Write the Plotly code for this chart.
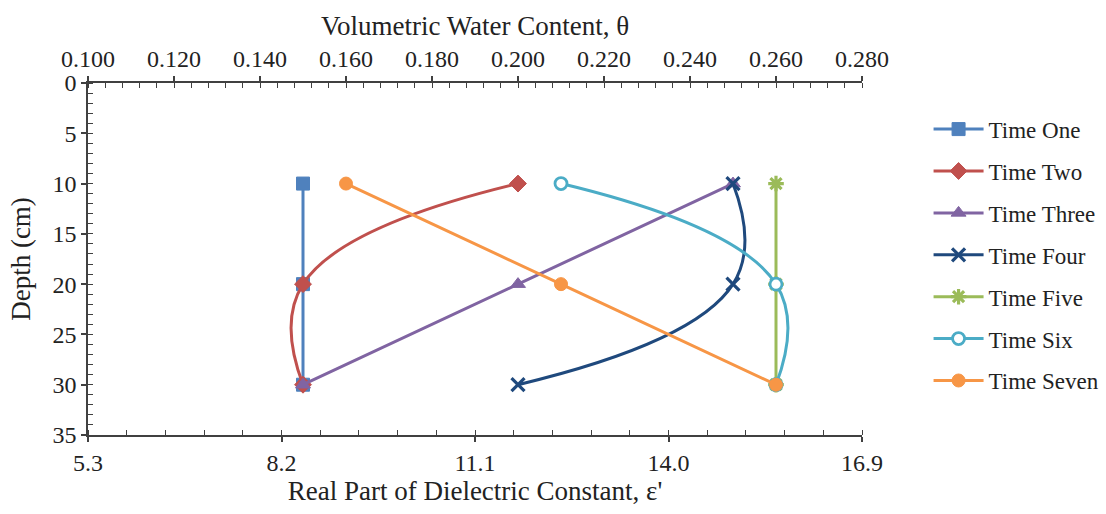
import plotly.graph_objects as go

depth = [10, 20, 30]
series_names = ["Time One", "Time Two", "Time Three", "Time Four", "Time Five", "Time Six", "Time Seven"]
theta_one = [0.150, 0.150, 0.150]
theta_two = [0.200, 0.150, 0.150]
theta_three = [0.250, 0.200, 0.150]
theta_four = [0.250, 0.250, 0.200]
theta_five = [0.260, 0.260, 0.260]
theta_six = [0.210, 0.260, 0.260]
theta_seven = [0.160, 0.210, 0.260]

colors = ["#4F81BD", "#C0504D", "#8064A2", "#1F497D", "#9BBB59", "#4BACC6", "#F79646"]
symbols = ["square", "diamond", "triangle-up", "x-thin-open", "asterisk-open", "circle", "circle"]

top_ticks = [0.100, 0.120, 0.140, 0.160, 0.180, 0.200, 0.220, 0.240, 0.260, 0.280]
bottom_ticks = [5.3, 8.2, 11.1, 14.0, 16.9]
depth_ticks = [0, 5, 10, 15, 20, 25, 30, 35]

FONT = "Liberation Serif"

fig = go.Figure()
all_theta = [theta_one, theta_two, theta_three, theta_four, theta_five, theta_six, theta_seven]
for name, th, c, s in zip(series_names, all_theta, colors, symbols):
    marker = dict(symbol=s, size=13, color=c, line=dict(color=c, width=1))
    if name == "Time Six":
        marker = dict(symbol="circle", size=12, color="white", line=dict(color=c, width=2.8))
    if s in ("x-thin-open", "asterisk-open"):
        marker = dict(symbol=s, size=13, color=c, line=dict(color=c, width=3.2))
    fig.add_trace(go.Scatter(
        x=th, y=depth, name=name, mode="lines+markers",
        xaxis="x2", yaxis="y", legendgroup=name,
        line=dict(color=c, width=3, shape="spline", smoothing=1.3),
        marker=marker,
    ))

# dummy trace to ensure bottom axis is drawn
fig.add_trace(go.Scatter(x=[bottom_ticks[0]], y=[depth_ticks[0]], mode="markers",
                         marker=dict(opacity=0), showlegend=False, hoverinfo="skip",
                         xaxis="x", yaxis="y"))

TICKFONT = dict(family=FONT, size=24, color="#222")
TITLEFONT = dict(family=FONT, size=27, color="#222")
axis_common = dict(showgrid=False, zeroline=False, showline=True, linecolor="#404040",
                   linewidth=1.5, ticks="outside", ticklen=5, tickwidth=1.5, tickcolor="#404040",
                   tickfont=TICKFONT)

fig.update_layout(
    width=1106, height=514,
    margin=dict(l=88, r=244, t=83, b=79, autoexpand=False),
    paper_bgcolor="white", plot_bgcolor="white",
    font=dict(family=FONT, color="#222"),
    xaxis=dict(range=[5.3, 16.9], tickvals=bottom_ticks, ticktext=[f"{v:.1f}" for v in bottom_ticks],
               side="bottom",
               minor=dict(dtick=0.58, tick0=5.3, ticks="inside", ticklen=5, tickwidth=1.3, tickcolor="#404040"),
               title=dict(text="Real Part of Dielectric Constant, ε'", font=TITLEFONT, standoff=4),
               **axis_common),
    xaxis2=dict(range=[0.100, 0.280], tickvals=top_ticks, ticktext=[f"{v:.3f}" for v in top_ticks],
                overlaying="x", side="top",
                minor=dict(dtick=0.004, tick0=0.1, ticks="inside", ticklen=5, tickwidth=1.3, tickcolor="#404040"),
                title=dict(text="Volumetric Water Content, θ", font=TITLEFONT, standoff=2),
                **axis_common),
    yaxis=dict(range=[35, 0], tickvals=depth_ticks,
               minor=dict(dtick=1, tick0=0, ticks="inside", ticklen=5, tickwidth=1.3, tickcolor="#404040"),
               title=dict(text="Depth (cm)", font=TITLEFONT, standoff=14),
               **axis_common),
    legend=dict(x=1.086, y=0.93, xanchor="left", yanchor="top",
                font=dict(family=FONT, size=23, color="#222"),
                tracegroupgap=9, itemwidth=50, bgcolor="rgba(0,0,0,0)"),
    showlegend=True,
)

fig.write_html("out.html")
